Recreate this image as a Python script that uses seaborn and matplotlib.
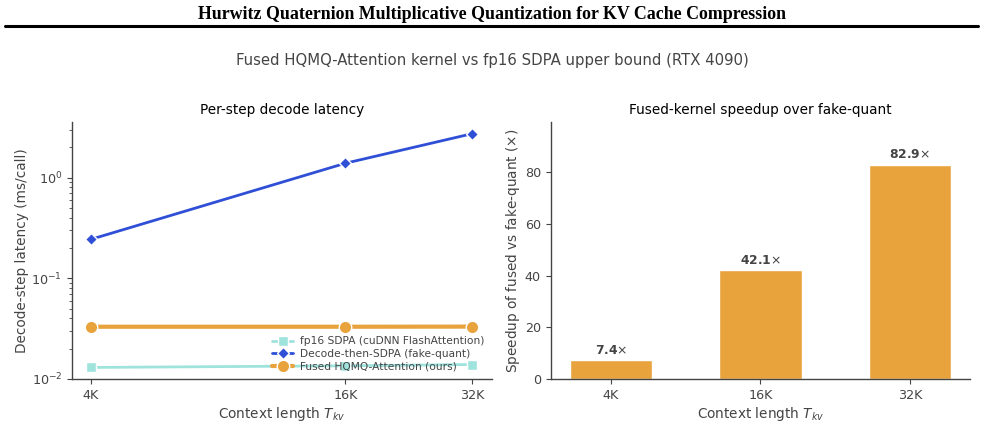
import numpy as np
import pandas as pd
import matplotlib
matplotlib.use("Agg")
import matplotlib.pyplot as plt
import seaborn as sns

# datos
ctx_labels = ["4K", "16K", "32K"]
ctx_tokens = [4096, 16384, 32768]
lat_fp16 = [0.0130, 0.0135, 0.0139]
lat_fake = [0.244, 1.39, 2.74]
lat_fused = [0.0330, 0.0330, 0.0331]
speedup = [7.4, 42.1, 82.9]

series_names = ["fp16 SDPA (cuDNN FlashAttention)",
                "Decode-then-SDPA (fake-quant)",
                "Fused HQMQ-Attention (ours)"]

GREY = "#444444"
sns.set_theme(style="ticks")
plt.rcParams.update({
    "font.family": ["DejaVu Sans"],
    "axes.edgecolor": GREY,
    "axes.labelcolor": GREY,
    "axes.linewidth": 1.0,
    "axes.labelpad": 2.0,
    "xtick.color": GREY,
    "ytick.color": GREY,
    "xtick.major.size": 3.5,
    "ytick.major.size": 3.5,
    "xtick.minor.size": 2.0,
    "ytick.minor.size": 2.0,
    "xtick.major.width": 0.8,
    "ytick.major.width": 0.8,
    "ytick.minor.width": 0.6,
    "xtick.major.pad": 3.5,
    "ytick.major.pad": 3.5,
    "text.color": GREY,
})

df = pd.DataFrame({
    "ctx": ctx_tokens * 3,
    "lat": lat_fp16 + lat_fake + lat_fused,
    "serie": [s for s in series_names for _ in ctx_tokens],
})

fig = plt.figure(figsize=(9.85, 4.45), dpi=100)
fig.text(0.5, 0.968, "Hurwitz Quaternion Multiplicative Quantization for KV Cache Compression",
         ha="center", va="center", fontsize=12.9, fontweight="bold",
         family="Liberation Serif", color="black")
fig.add_artist(plt.Line2D([0.005, 0.993], [0.941, 0.941], color="black", lw=2.2))
fig.text(0.5, 0.865, "Fused HQMQ-Attention kernel vs fp16 SDPA upper bound (RTX 4090)",
         ha="center", va="center", fontsize=10.7, color=GREY)

ax1 = fig.add_axes([0.073, 0.148, 0.426, 0.578])
ax2 = fig.add_axes([0.559, 0.148, 0.426, 0.578])

# Grafico 1: latencia por paso
estilos = {
    series_names[0]: dict(color="#9fe3dd", marker="s", lw=2.0, ms=7),
    series_names[1]: dict(color="#2f4fd6", marker="D", lw=2.0, ms=6.5),
    series_names[2]: dict(color="#e8a33d", marker="o", lw=3.0, ms=9),
}
for name in series_names:
    st = estilos[name]
    sub = df[df["serie"] == name]
    sns.lineplot(data=sub, x="ctx", y="lat", ax=ax1, label=name, color=st["color"],
                 marker=st["marker"], linewidth=st["lw"], markersize=st["ms"],
                 markeredgecolor="white", markeredgewidth=1.0)
ax1.set_xscale("log", base=2)
ax1.set_yscale("log")
ax1.set_xticks(ctx_tokens)
ax1.set_xticklabels(ctx_labels)
ax1.xaxis.set_minor_locator(matplotlib.ticker.NullLocator())
ax1.set_title("Per-step decode latency", fontsize=9.8, color="black")
ax1.set_xlabel("Context length $T_{kv}$", fontsize=9.8)
ax1.set_ylabel("Decode-step latency (ms/call)", fontsize=9.8)
ax1.tick_params(labelsize=9.2)
ax1.legend(loc="lower right", frameon=False, fontsize=7.7, handlelength=2.0,
           borderaxespad=0.3, labelspacing=0.25, handletextpad=0.6)
sns.despine(ax=ax1)

# Grafico 2: speedup
df_sp = pd.DataFrame({"ctx": ctx_labels, "speedup": speedup})
sns.barplot(data=df_sp, x="ctx", y="speedup", ax=ax2, color="#e8a33d", saturation=1,
            width=0.55, edgecolor="white", linewidth=1.0)
ax2.set_xlim(-0.4025, 2.4025)
ax2.set_ylim(0, max(speedup) * 1.2)
ax2.set_yticks([0, 20, 40, 60, 80])
for i, v in enumerate(speedup):
    ax2.text(i, v + 1.3, f"{v:.1f}" + r"$\times$", ha="center", va="bottom",
             fontsize=8.9, fontweight="bold", color=GREY)
ax2.set_title("Fused-kernel speedup over fake-quant", fontsize=9.8, color="black")
ax2.set_xlabel("Context length $T_{kv}$", fontsize=9.8)
ax2.set_ylabel(r"Speedup of fused vs fake-quant ($\times$)", fontsize=9.8)
ax2.tick_params(labelsize=9.2)
sns.despine(ax=ax2)

plt.savefig("out.png", dpi=100)
